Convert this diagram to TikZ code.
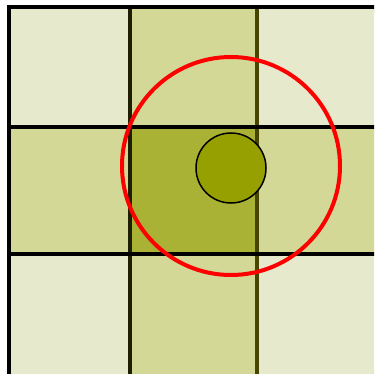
\documentclass[tikz,border=0pt]{standalone}
\definecolor{lightc}{RGB}{230,233,204}
\definecolor{medc}{RGB}{211,216,150}
\definecolor{darkc}{RGB}{170,178,54}
\definecolor{dotc}{RGB}{150,160,0}
\definecolor{lineA}{RGB}{30,30,0}
\definecolor{lineB}{RGB}{70,70,0}
\begin{document}
\begin{tikzpicture}[x=1pt,y=-1pt,
  gridA/.style={draw=lineA,line width=3.6pt},
  gridB/.style={draw=lineB,line width=3.6pt}]
\useasboundingbox (0,0) rectangle (374,374);
\fill[white] (0,0) rectangle (374,374);
\clip (0,0) rectangle (374,374);
% cells
\fill[lightc] (9,7) rectangle (130,127);
\fill[medc] (130,7) rectangle (257,127);
\fill[lightc] (257,7) rectangle (390,127);
\fill[medc] (9,127) rectangle (130,254);
\fill[darkc] (130,127) rectangle (257,254);
\fill[medc] (257,127) rectangle (390,254);
\fill[lightc] (9,254) rectangle (130,390);
\fill[medc] (130,254) rectangle (257,390);
\fill[lightc] (257,254) rectangle (390,390);
% grid lines
\draw[gridA] (130,7) -- (130,390);
\draw[gridB] (257,7) -- (257,390);
\draw[gridA,draw=black] (9,127) -- (390,127);
\draw[gridA,draw=black] (9,254) -- (390,254);
\draw[black,line width=4.5pt] (9,390) -- (9,7) -- (390,7);
% circles
\node[circle,draw=black,line width=1.5pt,fill=dotc,minimum size=70pt,inner sep=0pt] (dot) at (231,168) {};
\node[circle,draw=red,line width=4pt,minimum size=218pt,inner sep=0pt] (ring) at (231,166) {};
\end{tikzpicture}
\end{document}
